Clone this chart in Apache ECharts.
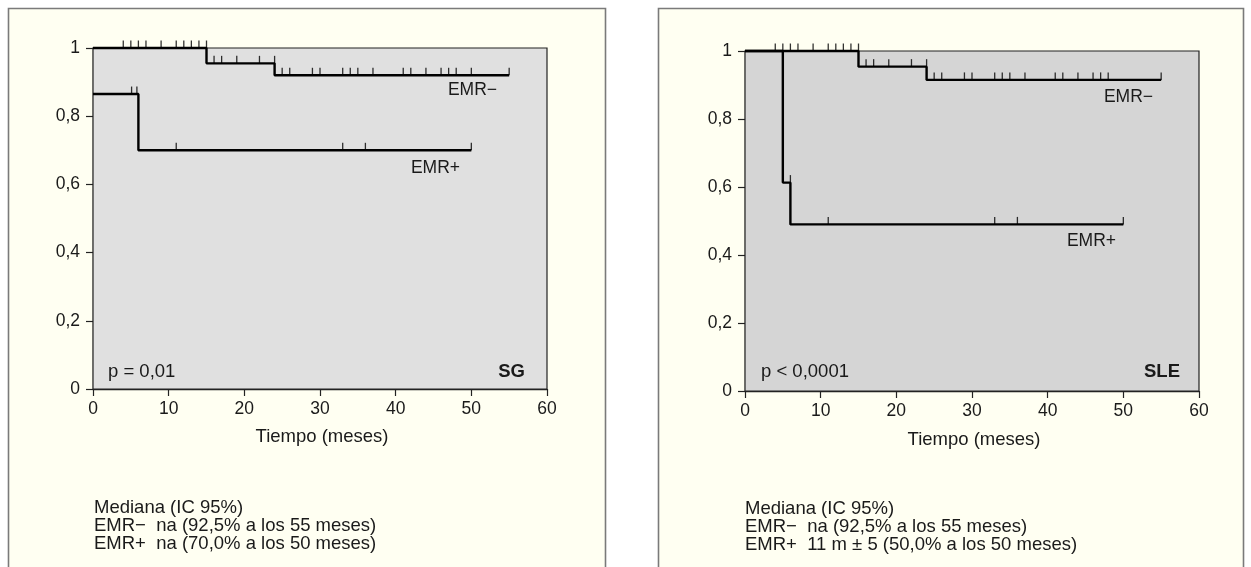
<!DOCTYPE html>
<html><head><meta charset="utf-8">
<script src="https://cdn.jsdelivr.net/npm/echarts@6/dist/echarts.min.js"></script>
<style>html,body{margin:0;padding:0;background:#fff}#c{width:1251px;height:567px}</style>
</head><body><div id="c"></div>
<script>
// ---- data ----
const xTickLabels = ['0','10','20','30','40','50','60'];
const yTickLabels = ['0','0,2','0,4','0,6','0,8','1'];

// SG panel
const sgNegSteps = [[0,1],[15,0.955],[24,0.92],[55,0.92]];
const sgNegCensor = [[4,1],[5,1],[6,1],[7,1],[9,1],[11,1],[12,1],[13,1],[14,1],[15,1],
  [16,0.955],[17,0.955],[19,0.955],[22,0.955],[24,0.955],
  [25,0.92],[26,0.92],[29,0.92],[30,0.92],[33,0.92],[34,0.92],[35,0.92],[37,0.92],[41,0.92],[42,0.92],[44,0.92],[46,0.92],[47,0.92],[48,0.92],[50,0.92],[55,0.92]];
const sgPosSteps = [[0,0.865],[6,0.70],[50,0.70]];
const sgPosCensor = [[5.1,0.865],[5.8,0.865],[11,0.70],[33,0.70],[36,0.70],[50,0.70]];

// SLE panel
const sleNegSteps = [[0,1],[15,0.954],[24,0.915],[55,0.915]];
const sleNegCensor = [[4,1],[5,1],[6,1],[7,1],[9,1],[11,1],[12,1],[13,1],[14,1],[15,1],
  [16,0.954],[17,0.954],[19,0.954],[22,0.954],[24,0.954],
  [25,0.915],[26,0.915],[29,0.915],[30,0.915],[33,0.915],[34,0.915],[35,0.915],[37,0.915],[41,0.915],[42,0.915],[44,0.915],[46,0.915],[47,0.915],[48,0.915],[55,0.915]];
const slePosSteps = [[0,1],[5,0.613],[6,0.49],[50,0.49]];
const slePosCensor = [[6,0.613],[11,0.49],[33,0.49],[36,0.49],[50,0.49]];

// ---- chart ----
const FONT = '"Liberation Sans", Arial, sans-serif';
const TXT = '#1a1a1a';
const FS = 18.5;
const chart = echarts.init(document.getElementById('c'), null, {renderer:'canvas'});

function xAx(i){return {type:'value',gridIndex:i,min:0,max:60,interval:10,
  axisLine:{show:true,onZero:false,lineStyle:{color:'#222',width:1.3}},
  axisTick:{show:true,length:7,lineStyle:{color:'#222',width:1.2}},
  axisLabel:{margin:11,fontFamily:FONT,fontSize:17.5,color:TXT,formatter:(v)=>xTickLabels[Math.round(v/10)]},
  splitLine:{show:false}};}
function yAx(i){return {type:'value',gridIndex:i,min:0,max:1,interval:0.2,
  axisLine:{show:true,onZero:false,lineStyle:{color:'#222',width:1.3}},
  axisTick:{show:true,length:7,lineStyle:{color:'#222',width:1.2}},
  axisLabel:{margin:13,fontFamily:FONT,fontSize:17.5,color:TXT,formatter:(v)=>yTickLabels[Math.round(v/0.2)]},
  splitLine:{show:false}};}
function stepSeries(d,i){return {type:'line',step:'end',data:d,xAxisIndex:i,yAxisIndex:i,symbol:'none',
  lineStyle:{color:'#000',width:2.4},clip:false,z:3};}
function censorSeries(d,i){return {type:'scatter',data:d,xAxisIndex:i,yAxisIndex:i,symbol:'rect',
  symbolSize:[1.3,7.5],symbolOffset:[0,-3.75],itemStyle:{color:'#000'},clip:false,z:4};}

function txt(x,y,s,opt){return Object.assign({type:'text',x:x,y:y,z:10,
  style:Object.assign({text:s,fill:TXT,font:FS+'px '+FONT,textVerticalAlign:'middle'},opt||{})});}

chart.setOption({
  animation:false,
  backgroundColor:'#ffffff',
  grid:[
    {left:93,top:48,width:454,height:341,show:true,backgroundColor:'#e0e0e0',borderColor:'#222',borderWidth:1.2,z:2},
    {left:745,top:51,width:454,height:340,show:true,backgroundColor:'#d5d5d5',borderColor:'#222',borderWidth:1.2,z:2}
  ],
  xAxis:[xAx(0),xAx(1)],
  yAxis:[yAx(0),yAx(1)],
  series:[
    stepSeries(sgNegSteps,0),censorSeries(sgNegCensor,0),
    stepSeries(sgPosSteps,0),censorSeries(sgPosCensor,0),
    stepSeries(sleNegSteps,1),censorSeries(sleNegCensor,1),
    stepSeries(slePosSteps,1),censorSeries(slePosCensor,1)
  ],
  graphic:[
    {type:'rect',shape:{x:8.5,y:8.5,width:597,height:620},style:{fill:'#fffff2',stroke:'#7a7a7a',lineWidth:1.6},z:-10,silent:true},
    {type:'rect',shape:{x:658.5,y:8.5,width:585,height:620},style:{fill:'#fffff2',stroke:'#7a7a7a',lineWidth:1.6},z:-10,silent:true},
    txt(497,90,'EMR−',{textAlign:'right',font:'17.5px '+FONT}),
    txt(460,168,'EMR+',{textAlign:'right',font:'17.5px '+FONT}),
    txt(108,372,'p = 0,01'),
    txt(525,372,'SG',{textAlign:'right',font:'bold '+FS+'px '+FONT}),
    txt(322,437,'Tiempo (meses)',{textAlign:'center'}),
    txt(94,508,'Mediana (IC 95%)'),
    txt(94,526,'EMR−  na (92,5% a los 55 meses)'),
    txt(94,544,'EMR+  na (70,0% a los 50 meses)'),
    txt(1153,97,'EMR−',{textAlign:'right',font:'17.5px '+FONT}),
    txt(1116,241,'EMR+',{textAlign:'right',font:'17.5px '+FONT}),
    txt(761,372,'p < 0,0001'),
    txt(1180,372,'SLE',{textAlign:'right',font:'bold '+FS+'px '+FONT}),
    txt(974,440,'Tiempo (meses)',{textAlign:'center'}),
    txt(745,509,'Mediana (IC 95%)'),
    txt(745,527,'EMR−  na (92,5% a los 55 meses)'),
    txt(745,545,'EMR+  11 m ± 5 (50,0% a los 50 meses)')
  ]
});
</script></body></html>
